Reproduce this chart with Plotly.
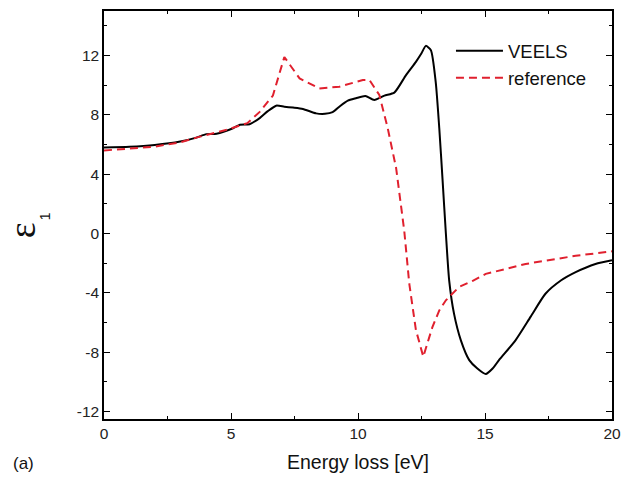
import plotly.graph_objects as go

# Real part of the dielectric function, epsilon_1, vs. energy loss
veels_e = [0.0, 1.0, 2.0, 3.0, 3.6, 4.03, 4.43, 5.08, 5.35, 5.73, 6.13, 6.45, 6.78, 7.1, 7.44,
           7.83, 8.35, 8.7, 9.0, 9.3, 9.6, 9.92, 10.29, 10.64, 11.04, 11.43, 11.89, 12.28,
           12.5, 12.67, 12.87, 13.06, 13.2, 13.33, 13.46, 13.59, 13.78, 14.05, 14.38, 14.7,
           15.03, 15.3, 15.55, 16.2, 16.8, 17.38, 18.0, 18.57, 19.35, 20.0]
veels_eps = [5.8, 5.85, 5.97, 6.2, 6.45, 6.7, 6.73, 7.1, 7.33, 7.37, 7.78, 8.25, 8.62, 8.55, 8.49,
             8.4, 8.1, 8.07, 8.18, 8.6, 8.96, 9.12, 9.27, 9.0, 9.3, 9.5, 10.68, 11.57,
             12.15, 12.65, 12.36, 10.2, 7.1, 3.6, 0.0, -3.17, -5.4, -7.2, -8.53, -9.1,
             -9.47, -9.1, -8.53, -7.2, -5.6, -4.06, -3.15, -2.6, -2.05, -1.8]

ref_e = [0.0, 1.0, 2.0, 2.46, 3.0, 3.81, 4.86, 5.64, 6.13, 6.65, 7.1, 7.7, 8.48, 9.27, 10.19,
         10.45, 10.84, 11.17, 11.5, 11.82, 12.02, 12.28, 12.57, 12.93, 13.2, 13.46, 13.98,
         14.5, 15.03, 16.6, 18.57, 20.0]
ref_eps = [5.6, 5.7, 5.85, 6.0, 6.15, 6.55, 7.0, 7.44, 8.2, 9.3, 11.9, 10.46, 9.78, 9.9, 10.35,
           10.35, 9.34, 7.1, 4.42, 0.2, -3.4, -6.5, -8.3, -6.3, -5.18, -4.5, -3.6,
           -3.2, -2.72, -2.05, -1.5, -1.2]

y_ticks = [-12, -8, -4, 0, 4, 8, 12]
y_labels = ["-12", "-8", "-4", "0", "4", "8", "12"]
x_ticks = [0, 5, 10, 15, 20]
x_labels = ["0", "5", "10", "15", "20"]

font_family = "Liberation Sans, Arial, sans-serif"

fig = go.Figure()
fig.add_trace(go.Scatter(
    x=veels_e, y=veels_eps, mode="lines", name="VEELS",
    line=dict(color="black", width=2, shape="spline", smoothing=0.6),
))
fig.add_trace(go.Scatter(
    x=ref_e, y=ref_eps, mode="lines", name="reference",
    line=dict(color="#e0202e", width=2, dash="8px,5px"),
))

axis_common = dict(
    showline=True, linecolor="black", linewidth=1.5, mirror="ticks",
    ticks="inside", ticklen=6, tickwidth=1.3, tickcolor="black",
    showgrid=False, zeroline=False,
    tickfont=dict(family=font_family, size=15.5, color="#222"),
)

fig.update_xaxes(
    range=[0, 20], tickvals=x_ticks, ticktext=x_labels,
    minor=dict(dtick=2.5, ticklen=3.5, tickwidth=1.2, tickcolor="black", ticks="inside"),
    title=dict(text="Energy loss [eV]", font=dict(family=font_family, size=19.5, color="#111"),
               standoff=14),
    **axis_common,
)
fig.update_yaxes(
    range=[-12.5, 15], tickvals=y_ticks, ticktext=y_labels,
    minor=dict(dtick=2, ticklen=3.5, tickwidth=1.2, tickcolor="black", ticks="inside"),
    **axis_common,
)

# y-axis label: epsilon with subscript 1, drawn rotated
fig.add_annotation(
    text="ε", xref="paper", yref="paper", x=-0.162, y=0.462,
    xanchor="center", yanchor="middle", textangle=-90, showarrow=False,
    font=dict(family="Liberation Serif, serif", size=38, color="#111"),
)
fig.add_annotation(
    text="1", xref="paper", yref="paper", x=-0.116, y=0.497,
    xanchor="center", yanchor="middle", textangle=-90, showarrow=False,
    font=dict(family=font_family, size=14, color="#111"),
)

fig.add_annotation(
    text="(a)", xref="paper", yref="paper", x=-0.183, y=-0.11,
    xanchor="left", yanchor="middle", showarrow=False,
    font=dict(family=font_family, size=17, color="#111"),
)

fig.update_layout(
    width=630, height=479,
    margin=dict(l=104, r=17, t=9, b=60),
    paper_bgcolor="white", plot_bgcolor="white",
    showlegend=True,
    legend=dict(
        x=0.683, y=0.948, xanchor="left", yanchor="top",
        bgcolor="rgba(0,0,0,0)", borderwidth=0,
        font=dict(family=font_family, size=18.5, color="#111"),
        itemwidth=47, tracegroupgap=0,
    ),
)

fig.write_html("out.html")
